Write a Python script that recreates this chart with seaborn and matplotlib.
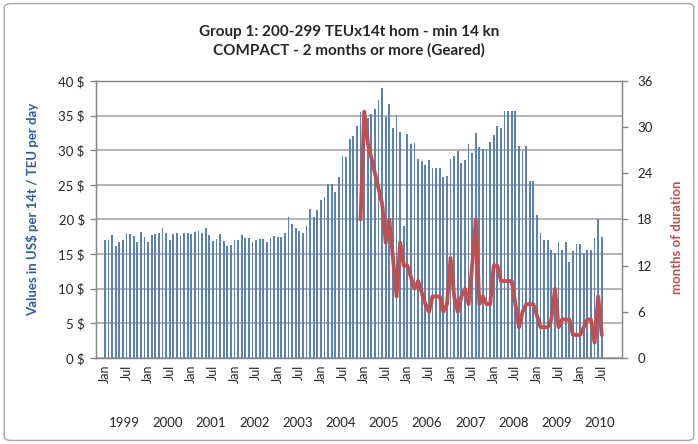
import numpy as np
import pandas as pd
import matplotlib.pyplot as plt
import seaborn as sns
from matplotlib.patches import FancyBboxPatch

sns.set_style("white")
plt.rcParams['font.family'] = ['Lato', 'DejaVu Sans']

# monthly charter rate, Jan 1999 - Jul 2010 (US$ per 14t / TEU per day)
rates = [
    17.0, 17.1, 17.7, 16.2, 16.8, 17.1, 18.0, 17.9, 17.6, 16.8, 18.2, 17.4,   # 1999
    16.7, 17.7, 17.9, 18.0, 18.7, 18.1, 17.0, 17.9, 18.1, 17.6, 18.0, 18.0,   # 2000
    17.9, 18.2, 18.3, 18.0, 18.7, 17.7, 16.9, 17.2, 17.9, 16.9, 16.2, 16.3,   # 2001
    17.0, 17.0, 17.8, 17.3, 17.3, 16.8, 17.0, 17.25, 17.25, 16.8, 17.3, 17.6, # 2002
    17.5, 17.5, 18.0, 20.3, 19.4, 18.7, 18.3, 18.1, 19.0, 21.5, 20.4, 21.35,  # 2003
    22.8, 23.2, 25.1, 25.1, 23.9, 26.1, 29.2, 29.0, 31.6, 32.1, 33.5, 35.5,   # 2004
    35.6, 34.6, 35.3, 35.9, 37.25, 39.0, 34.8, 36.7, 33.25, 35.1, 32.6, 19.0, # 2005
    32.3, 30.9, 31.0, 28.7, 28.5, 27.8, 28.6, 27.5, 27.5, 27.5, 26.2, 26.3,   # 2006
    28.8, 29.2, 29.9, 28.1, 28.6, 30.9, 29.6, 32.5, 30.4, 30.2, 30.2, 31.2,   # 2007
    32.2, 33.5, 33.25, 35.7, 35.7, 35.7, 35.7, 30.6, 29.9, 30.6, 25.5, 25.5,  # 2008
    20.7, 18.1, 17.1, 17.1, 15.6, 15.2, 16.8, 15.6, 16.8, 13.8, 15.5, 16.5,   # 2009
    16.5, 15.1, 15.6, 15.6, 17.3, 20.1, 17.4,                                 # 2010
]

# months of duration, Dec 2004 - Jul 2010
duration_start = '2004-12'
duration = [
    18,
    32, 28, 26, 24, 22, 20, 15, 18, 13, 8, 15, 12,
    12, 10.5, 9, 10, 8.5, 7, 6, 8, 8, 8, 6, 7,
    13, 8, 6, 8, 9, 7, 12, 18, 7, 8, 7, 7,
    12, 12, 10, 10, 10, 10, 7, 4, 6, 7, 7, 7,
    5.5, 4, 4, 4, 5, 9, 4, 5, 5, 5, 3, 3,
    3, 4, 5, 5, 2, 8, 3,
]

years = list(range(1999, 2011))
half_year_labels = ['Jan', 'Jul']

bar_color = '#4F81BD'
line_color = '#C0504D'
label_blue = '#2E5C9E'
grid_color = '#A0A0A0'

df = pd.DataFrame({'month': pd.date_range('1999-01', periods=len(rates), freq='MS'),
                   'rate': rates})
df['i'] = np.arange(len(df))
dur = pd.DataFrame({'month': pd.date_range(duration_start, periods=len(duration), freq='MS'),
                    'months': duration})
dur = dur.merge(df[['month', 'i']], on='month')

fig = plt.figure(figsize=(6.98, 4.44), dpi=100)
ax = fig.add_axes([0.1375, 0.1937, 0.891 - 0.1375, 0.8176 - 0.1937])

sns.barplot(data=df, x='i', y='rate', color=bar_color, width=0.5,
            native_scale=True, ax=ax, zorder=3, linewidth=0)

ax.set_ylim(0, 40)
ax.set_yticks(np.arange(0, 41, 5))
ax.set_yticklabels([f'{v} $' for v in range(0, 41, 5)], fontsize=9.5)
ax.grid(axis='y', color=grid_color, lw=1.1, zorder=0)
ax.set_axisbelow(True)

# Jan / Jul ticks
tick_pos = np.arange(0, len(rates), 6)
ax.set_xticks(tick_pos)
ax.set_xticklabels([half_year_labels[k % 2] for k in range(len(tick_pos))],
                   rotation=90, fontsize=9)
ax.set_xlim(-2.5, 143.6)
ax.set_xlabel('')
ax.set_ylabel('')
ax.tick_params(axis='x', length=0, pad=5)
ax.tick_params(axis='y', length=4, width=1, color='#888888', direction='out', pad=4, left=True)

for s in ['left', 'bottom', 'right', 'top']:
    ax.spines[s].set_color('#888888')
    ax.spines[s].set_linewidth(1)

# year labels under the month labels
for y in years:
    ax.text((y - 1999) * 12 + 5.5, -0.235, str(y), transform=ax.get_xaxis_transform(),
            ha='center', va='center', fontsize=9.5)

ax2 = ax.twinx()
sns.lineplot(data=dur, x='i', y='months', color=line_color, lw=2.8, ax=ax2,
             zorder=4)
ax2.set_ylim(0, 36)
ax2.set_yticks(np.arange(0, 37, 6))
ax2.set_yticklabels([str(v) for v in range(0, 37, 6)], fontsize=9.5)
ax2.set_ylabel('')
ax2.tick_params(axis='y', length=4, width=1, color='#888888', direction='out', pad=7)
for s in ['left', 'bottom', 'right', 'top']:
    ax2.spines[s].set_color('#888888')
ax2.set_xlim(-2.5, 143.6)

fig.text(0.5, 0.907, 'Group 1: 200-299 TEUx14t hom - min 14 kn\nCOMPACT - 2 months or more (Geared)',
         ha='center', va='center', fontsize=11, fontweight='bold', linespacing=1.4)
fig.text(0.047, 0.529, 'Values in US$ per 14t / TEU per day', rotation=90,
         ha='center', va='center', fontsize=9.5, fontweight='bold', color=label_blue)
fig.text(0.970, 0.466, 'months of duration', rotation=90,
         ha='center', va='center', fontsize=9.5, fontweight='bold', color=line_color)

fig.patches.append(FancyBboxPatch((0.006, 0.008), 0.988, 0.984,
                                  boxstyle='round,pad=0,rounding_size=0.01',
                                  transform=fig.transFigure, fill=False,
                                  edgecolor='#A6A6A6', lw=1))

fig.savefig('out.png', dpi=100)
